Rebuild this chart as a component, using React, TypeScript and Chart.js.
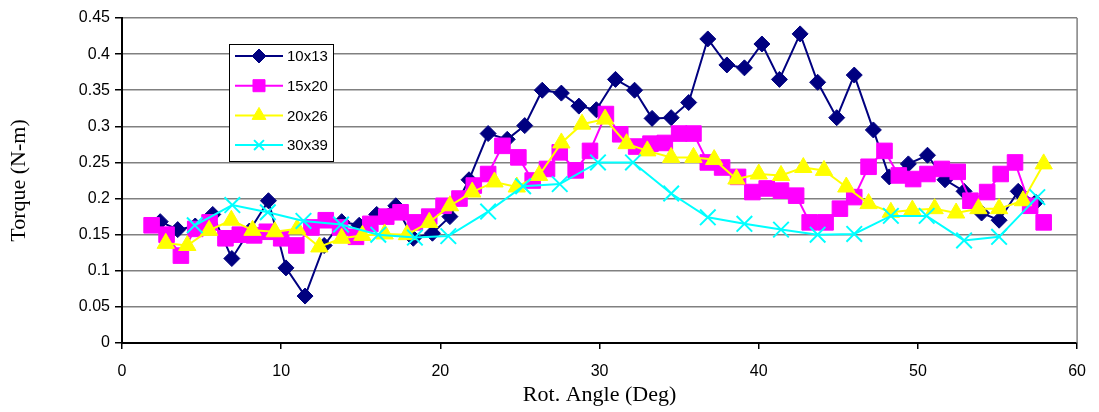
import React, { useEffect, useRef } from "react";
import { Chart, registerables } from "chart.js";
import { drawPoint } from "chart.js/helpers";

Chart.register(...registerables);

const seriesNames = ["10x13", "15x20", "20x26", "30x39"];

const angle10x13 = [2.4, 3.5, 4.6, 5.7, 6.9, 8.0, 9.2, 10.3, 11.5, 12.7, 13.8, 14.9, 16.0, 17.2, 18.3, 19.5, 20.6, 21.8, 23.0, 24.2, 25.3, 26.4, 27.6, 28.7, 29.8, 31.0, 32.2, 33.3, 34.5, 35.6, 36.8, 38.0, 39.1, 40.2, 41.3, 42.6, 43.7, 44.9, 46.0, 47.2, 48.2, 49.4, 50.6, 51.7, 52.9, 54.0, 55.1, 56.3, 57.4];
const torque10x13 = [0.168, 0.157, 0.162, 0.178, 0.117, 0.155, 0.197, 0.104, 0.065, 0.135, 0.168, 0.163, 0.178, 0.19, 0.145, 0.152, 0.175, 0.226, 0.29, 0.282, 0.301, 0.35, 0.346, 0.328, 0.323, 0.365, 0.35, 0.311, 0.312, 0.333, 0.421, 0.385, 0.381, 0.414, 0.365, 0.428, 0.361, 0.312, 0.371, 0.295, 0.23, 0.248, 0.26, 0.226, 0.21, 0.18, 0.17, 0.21, 0.195];

const angle15x20 = [1.86, 2.8, 3.7, 4.6, 5.5, 6.5, 7.4, 8.3, 9.1, 10.0, 10.95, 11.9, 12.8, 13.7, 14.7, 15.6, 16.6, 17.5, 18.4, 19.3, 20.2, 21.2, 22.1, 23.0, 23.9, 24.9, 25.8, 26.7, 27.5, 28.5, 29.4, 30.4, 31.3, 32.3, 33.2, 34.1, 35.0, 35.9, 36.8, 37.7, 38.7, 39.6, 40.5, 41.4, 42.35, 43.2, 44.2, 45.1, 46.0, 46.9, 47.9, 48.8, 49.7, 50.6, 51.5, 52.5, 53.3, 54.35, 55.2, 56.1, 57.05, 57.9];
const torque15x20 = [0.163, 0.15, 0.121, 0.158, 0.167, 0.145, 0.15, 0.149, 0.154, 0.145, 0.135, 0.16, 0.17, 0.16, 0.147, 0.165, 0.175, 0.181, 0.167, 0.175, 0.19, 0.2, 0.218, 0.234, 0.273, 0.257, 0.225, 0.241, 0.264, 0.239, 0.266, 0.317, 0.289, 0.272, 0.276, 0.277, 0.29, 0.29, 0.25, 0.243, 0.23, 0.209, 0.214, 0.211, 0.204, 0.167, 0.167, 0.186, 0.202, 0.244, 0.266, 0.232, 0.227, 0.234, 0.241, 0.237, 0.197, 0.209, 0.234, 0.25, 0.19, 0.167];

const angle20x26 = [2.75, 4.1, 5.47, 6.87, 8.2, 9.6, 11.0, 12.4, 13.8, 15.1, 16.5, 17.9, 19.3, 20.6, 22.0, 23.4, 24.8, 26.2, 27.6, 28.9, 30.35, 31.7, 33.0, 34.5, 35.9, 37.2, 38.6, 40.0, 41.4, 42.8, 44.1, 45.5, 46.9, 48.3, 49.65, 51.05, 52.4, 53.8, 55.1, 56.6, 57.9];
const torque20x26 = [0.138, 0.135, 0.156, 0.17, 0.156, 0.154, 0.158, 0.133, 0.145, 0.149, 0.151, 0.15, 0.167, 0.19, 0.209, 0.223, 0.216, 0.232, 0.277, 0.303, 0.31, 0.276, 0.266, 0.257, 0.257, 0.254, 0.227, 0.234, 0.232, 0.243, 0.239, 0.216, 0.193, 0.181, 0.184, 0.186, 0.18, 0.186, 0.186, 0.197, 0.248];

const angle30x39 = [4.57, 6.93, 9.16, 11.4, 13.76, 16.1, 18.4, 20.5, 23.0, 25.2, 27.5, 29.9, 32.1, 34.5, 36.8, 39.1, 41.4, 43.7, 46.0, 48.3, 50.55, 52.9, 55.1, 57.5];
const torque30x39 = [0.163, 0.191, 0.181, 0.169, 0.164, 0.15, 0.146, 0.148, 0.182, 0.217, 0.22, 0.25, 0.25, 0.207, 0.174, 0.165, 0.157, 0.15, 0.151, 0.176, 0.176, 0.142, 0.147, 0.202];

const xTicks = [0, 10, 20, 30, 40, 50, 60];
const yTicks = [0, 0.05, 0.1, 0.15, 0.2, 0.25, 0.3, 0.35, 0.4, 0.45];

const colors = ["#000080", "#FF00FF", "#FFFF00", "#00FFFF"];
const styles = ["rectRot", "rect", "triangle", "crossRot"];
const radii = [8, 11, 10, 11];
const legendRadii = [7, 8.5, 8, 7];

const toPoints = (xs: number[], ys: number[]) => xs.map((x, i) => ({ x, y: ys[i] }));

const legendPlugin = {
  id: "boxLegend",
  beforeDatasetsDraw(chart: any) {
    const { ctx, chartArea } = chart;
    ctx.save();
    ctx.strokeStyle = "#808080";
    ctx.lineWidth = 1.5;
    ctx.beginPath();
    ctx.moveTo(chartArea.right, chartArea.top);
    ctx.lineTo(chartArea.right, chartArea.bottom);
    ctx.stroke();
    ctx.restore();
  },
  afterDraw(chart: any) {
    const ctx = chart.ctx;
    ctx.save();
    const bx = 229, by = 44, bw = 104, bh = 117;
    ctx.fillStyle = "#ffffff";
    ctx.fillRect(bx, by, bw, bh);
    ctx.strokeStyle = "#000000";
    ctx.lineWidth = 1;
    ctx.strokeRect(bx + 0.5, by + 0.5, bw, bh);
    seriesNames.forEach((name, i) => {
      const y = 56 + i * 29.7;
      ctx.strokeStyle = colors[i];
      ctx.lineWidth = 2;
      ctx.beginPath();
      ctx.moveTo(235, y);
      ctx.lineTo(283, y);
      ctx.stroke();
      ctx.fillStyle = colors[i];
      ctx.strokeStyle = colors[i];
      ctx.lineWidth = i === 3 ? 2 : 1;
      drawPoint(ctx, {
        pointStyle: styles[i],
        radius: legendRadii[i],
        rotation: 0,
        borderWidth: i === 3 ? 2 : 1,
      } as any, 259, y);
      ctx.fillStyle = "#000000";
      ctx.font = "15px 'Liberation Sans', Arial, sans-serif";
      ctx.textBaseline = "middle";
      ctx.textAlign = "left";
      ctx.fillText(name, 287, y + 1);
    });
    ctx.restore();
  },
};

export default function App() {
  const ref = useRef<HTMLCanvasElement | null>(null);
  useEffect(() => {
    if (!ref.current) return;
    const data = [
      toPoints(angle10x13, torque10x13),
      toPoints(angle15x20, torque15x20),
      toPoints(angle20x26, torque20x26),
      toPoints(angle30x39, torque30x39),
    ];
    const chart = new Chart(ref.current, {
      type: "scatter",
      data: {
        datasets: seriesNames.map((name, i) => ({
          label: name,
          data: data[i],
          showLine: true,
          borderColor: colors[i],
          backgroundColor: colors[i],
          borderWidth: 2,
          pointStyle: styles[i] as any,
          pointRadius: radii[i],
          pointBorderWidth: i === 3 ? 2 : 1,
          pointBorderColor: colors[i],
          pointBackgroundColor: colors[i],
          order: 3 - i,
        })),
      },
      options: {
        responsive: false,
        animation: false,
        devicePixelRatio: 1,
        layout: { padding: { left: 0, right: 16.5, top: 18, bottom: 0 } },
        plugins: { legend: { display: false }, tooltip: { enabled: false } },
        scales: {
          x: {
            type: "linear",
            min: 0,
            max: 60,
            afterFit: (s: any) => { s.height = 69; },
            afterBuildTicks: (s: any) => { s.ticks = xTicks.map((v) => ({ value: v })); },
            ticks: {
              color: "#000",
              font: { family: "'Liberation Sans', Arial, sans-serif", size: 16 },
              padding: 13,
              maxRotation: 0,
            },
            grid: { drawOnChartArea: false, drawTicks: true, tickLength: 6, tickColor: "#000", lineWidth: 1.5 },
            border: { display: true, color: "#000", width: 2 },
            title: {
              display: true,
              text: "Rot. Angle (Deg)",
              color: "#000",
              font: { family: "'Liberation Serif', 'Times New Roman', serif", size: 22 },
              padding: { top: 0, bottom: 3.5 },
            },
          },
          y: {
            type: "linear",
            min: 0,
            max: 0.45,
            afterFit: (s: any) => { s.width = 122; },
            afterBuildTicks: (s: any) => { s.ticks = yTicks.map((v) => ({ value: v })); },
            ticks: {
              color: "#000",
              font: { family: "'Liberation Sans', Arial, sans-serif", size: 16 },
              padding: 5,
              callback: (v: any) => String(Math.round(Number(v) * 100) / 100),
            },
            grid: { color: "#808080", lineWidth: 1.5, tickLength: 7, tickColor: "#000" },
            border: { display: true, color: "#000", width: 2 },
            title: {
              display: true,
              text: "Torque (N-m)",
              color: "#000",
              font: { family: "'Liberation Serif', 'Times New Roman', serif", size: 22 },
              padding: { top: 6, bottom: 0 },
            },
          },
        },
      },
      plugins: [legendPlugin],
    });
    return () => chart.destroy();
  }, []);
  return (
    <div style={{ position: "absolute", left: 0, top: 0, width: 1099, height: 412, background: "#fff" }}>
      <canvas ref={ref} width={1099} height={412} style={{ width: 1099, height: 412, display: "block" }} />
    </div>
  );
}
